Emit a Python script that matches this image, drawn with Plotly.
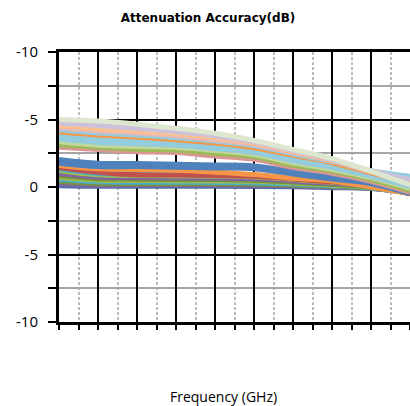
import plotly.graph_objects as go

freq_ghz = [0, 2, 4, 6, 8, 10, 12, 14, 16, 18]

# Upper group of attenuation states (dB)
upper_series = [
    [-5.0, -4.88, -4.65, -4.35, -3.98, -3.45, -2.78, -2.1, -1.15, -0.15],
    [-4.75, -4.55, -4.35, -4.1, -3.8, -3.35, -2.7, -2.05, -1.2, -0.55],
    [-4.55, -4.3, -4.15, -3.95, -3.65, -3.25, -2.62, -2.0, -1.18, -0.5],
    [-4.4, -4.15, -4.0, -3.8, -3.5, -3.15, -2.55, -1.95, -1.15, -0.45],
    [-4.25, -4.0, -3.85, -3.65, -3.4, -3.05, -2.45, -1.9, -1.2, -0.8],
    [-4.1, -3.85, -3.7, -3.5, -3.25, -2.9, -2.35, -1.8, -1.05, -0.3],
    [-3.95, -3.7, -3.55, -3.4, -3.15, -2.8, -2.25, -1.7, -1.0, -0.35],
    [-3.75, -3.5, -3.4, -3.25, -3.0, -2.68, -2.1, -1.6, -0.9, -0.2],
    [-3.55, -3.3, -3.2, -3.1, -2.85, -2.55, -1.95, -1.45, -0.8, -0.05],
    [-3.35, -3.1, -3.0, -2.92, -2.7, -2.4, -1.8, -1.3, -0.7, 0.1],
    [-3.15, -2.95, -2.8, -2.75, -2.5, -2.25, -1.62, -1.18, -0.55, 0.25],
    [-2.95, -2.78, -2.62, -2.55, -2.3, -2.05, -1.45, -1.02, -0.42, 0.4],
]
upper_colors = ["#dde6cf", "#ccc1da", "#fac090", "#e6b9b8", "#93cddd", "#f79646",
                "#93cddd", "#93cddd", "#93cddd", "#c3d69b", "#9bbb59", "#d99694"]

# Lower group of attenuation states (dB)
lower_series = [
    [-2.0, -1.72, -1.7, -1.65, -1.6, -1.52, -1.12, -0.72, -0.35, 0.45],
    [-1.8, -1.55, -1.55, -1.5, -1.45, -1.38, -1.0, -0.62, -0.28, 0.45],
    [-1.6, -1.35, -1.3, -1.25, -1.1, -0.92, -0.65, -0.45, 0.0, 0.5],
    [-1.45, -1.1, -0.9, -0.88, -0.85, -0.8, -0.6, -0.38, -0.1, 0.5],
    [-1.35, -1.0, -1.0, -0.98, -0.95, -0.88, -0.66, -0.42, -0.15, 0.45],
    [-1.2, -0.9, -0.85, -0.82, -0.8, -0.75, -0.55, -0.35, -0.1, 0.45],
    [-1.0, -0.75, -0.7, -0.68, -0.66, -0.62, -0.45, -0.28, -0.05, 0.45],
    [-0.85, -0.62, -0.58, -0.56, -0.55, -0.5, -0.36, -0.2, 0.0, 0.45],
    [-0.7, -0.5, -0.48, -0.47, -0.45, -0.42, -0.3, -0.15, 0.02, 0.45],
    [-0.55, -0.38, -0.36, -0.35, -0.34, -0.32, -0.22, -0.1, 0.05, 0.45],
    [-0.4, -0.25, -0.25, -0.24, -0.24, -0.22, -0.15, -0.05, 0.08, 0.45],
    [-0.25, -0.15, -0.14, -0.14, -0.14, -0.13, -0.08, 0.0, 0.1, 0.45],
    [-0.1, -0.05, -0.05, -0.05, -0.05, -0.04, -0.02, 0.05, 0.12, 0.45],
]
lower_colors = ["#4f81bd", "#4f81bd", "#f79646", "#c0504d", "#4bacc6", "#9bbb59",
                "#8064a2", "#77933c", "#9bbb59", "#4bacc6", "#77933c", "#8064a2", "#4f6faa"]

y_tickvals = [-10, -5, 0, 5, 10]
y_ticktext = ["-10", "-5", "0", "-5", "-10"]

fig = go.Figure()
for vals, col in zip(reversed(lower_series[2:]), reversed(lower_colors[2:])):
    fig.add_trace(go.Scatter(x=freq_ghz, y=vals, mode="lines", line=dict(color=col, width=5, shape="spline"),
                             showlegend=False, hoverinfo="skip"))
for vals, col in zip(reversed(lower_series[:2]), reversed(lower_colors[:2])):
    fig.add_trace(go.Scatter(x=freq_ghz, y=vals, mode="lines", line=dict(color=col, width=6, shape="spline"),
                             showlegend=False, hoverinfo="skip"))
for vals, col in zip(reversed(upper_series), reversed(upper_colors)):
    fig.add_trace(go.Scatter(x=freq_ghz, y=vals, mode="lines", line=dict(color=col, width=5, shape="spline"),
                             showlegend=False, hoverinfo="skip"))

fig.update_layout(
    width=410, height=406,
    margin=dict(l=59, r=0, t=52, b=84),
    paper_bgcolor="white", plot_bgcolor="white",
    showlegend=False,
    title=dict(text="<b>Attenuation Accuracy(dB)</b>", x=208/410, xanchor="center",
               y=1-18/406, yanchor="middle", font=dict(family="DejaVu Sans", size=12, color="black")),
    annotations=[dict(text="Frequency (GHz)", xref="paper", yref="paper",
                      x=(223-59)/351, y=(322-396)/270, xanchor="center", yanchor="middle",
                      showarrow=False, font=dict(family="Open Sans", size=14, color="black"))],
)
fig.update_xaxes(
    range=[0, 18], showticklabels=False,
    ticks="outside", ticklen=5, tickwidth=2, tickcolor="black", dtick=2, tick0=0,
    showgrid=True, gridcolor="black", gridwidth=2,
    showline=True, linecolor="black", linewidth=3, mirror=True,
    zeroline=False,
    minor=dict(dtick=1, tick0=0, showgrid=True, gridcolor="#bdbdbd", griddash="3px,2px", gridwidth=1.5,
               ticks="outside", ticklen=5, tickwidth=2, tickcolor="black"),
)
fig.update_yaxes(
    range=[10, -10], tickmode="array", tickvals=y_tickvals, ticktext=y_ticktext,
    ticks="outside", ticklen=8, tickwidth=2, tickcolor="black", ticklabelstandoff=7,
    tickfont=dict(family="Open Sans", size=15, color="black"),
    showgrid=True, gridcolor="black", gridwidth=2,
    showline=True, linecolor="black", linewidth=3,
    zeroline=False,
    minor=dict(dtick=2.5, tick0=0, showgrid=True, gridcolor="#a6a6a6", gridwidth=2,
               ticks="outside", ticklen=8, tickwidth=2, tickcolor="black"),
)

fig.write_html("out.html", config={"displayModeBar": False},
               post_script="document.body.style.margin='0px';")
